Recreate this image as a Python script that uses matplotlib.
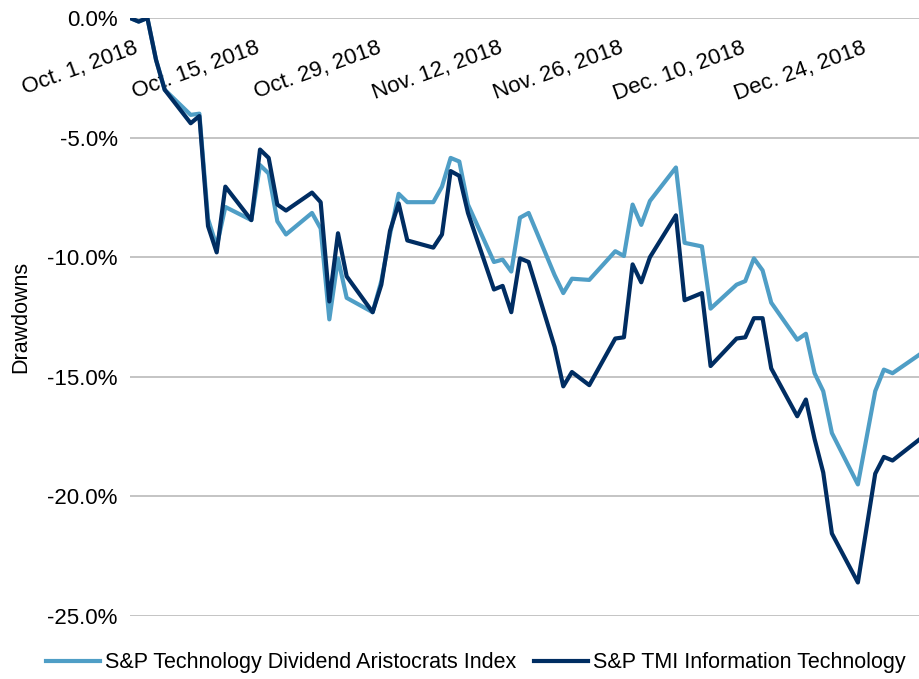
import pandas as pd
import matplotlib
matplotlib.use('Agg')
import matplotlib.pyplot as plt
from matplotlib.ticker import FuncFormatter
from matplotlib.transforms import ScaledTranslation

plt.rcParams['font.family'] = ['Liberation Sans', 'DejaVu Sans']

# trading days, Q4 2018
oct_days = [1, 2, 3, 4, 5, 8, 9, 10, 11, 12, 15, 16, 17, 18, 19, 22, 23, 24, 25, 26, 29, 30, 31]
nov_days = [1, 2, 5, 6, 7, 8, 9, 12, 13, 14, 15, 16, 19, 20, 21, 23, 26, 27, 28, 29, 30]
dec_days = [3, 4, 6, 7, 10, 11, 12, 13, 14, 17, 18, 19, 20, 21, 24, 26, 27, 28, 31]

# drawdowns in percent
aristocrats = [0.0, -0.15, 0.0, -1.75, -3.0, -4.05, -4.0, -8.4, -9.55, -7.9,
               -8.45, -6.15, -6.5, -8.5, -9.05, -8.15, -8.8, -12.6, -10.05, -11.7,
               -12.3, -11.0, -9.05,
               -7.35, -7.7, -7.7, -7.05, -5.85, -6.0, -7.8, -10.2, -10.1, -10.6,
               -8.35, -8.15, -10.75, -11.5, -10.9, -10.95, -9.75, -9.95, -7.8, -8.65,
               -7.65,
               -6.25, -9.4, -9.55, -12.15, -11.15, -11.0, -10.05, -10.55, -11.9, -13.45,
               -13.2, -14.85, -15.6, -17.35, -19.5, -15.6, -14.7, -14.85, -14.1]
tmi_it = [0.0, -0.15, 0.0, -1.75, -3.0, -4.4, -4.1, -8.7, -9.8, -7.05,
          -8.45, -5.5, -5.85, -7.8, -8.05, -7.3, -7.7, -11.85, -9.0, -10.8,
          -12.3, -11.15, -8.9,
          -7.75, -9.3, -9.6, -9.05, -6.4, -6.6, -8.15, -11.35, -11.2, -12.3,
          -10.05, -10.2, -13.75, -15.4, -14.8, -15.35, -13.4, -13.35, -10.3, -11.05,
          -10.0,
          -8.25, -11.8, -11.5, -14.55, -13.4, -13.35, -12.55, -12.55, -14.65, -16.65,
          -15.95, -17.6, -19.0, -21.55, -23.6, -19.05, -18.35, -18.5, -17.65]

tick_dates = ['2018-10-01', '2018-10-15', '2018-10-29', '2018-11-12',
              '2018-11-26', '2018-12-10', '2018-12-24']
tick_labels = ['Oct. 1, 2018', 'Oct. 15, 2018', 'Oct. 29, 2018', 'Nov. 12, 2018',
               'Nov. 26, 2018', 'Dec. 10, 2018', 'Dec. 24, 2018']

dates = ([pd.Timestamp(2018, 10, d) for d in oct_days] +
         [pd.Timestamp(2018, 11, d) for d in nov_days] +
         [pd.Timestamp(2018, 12, d) for d in dec_days])

fig = plt.figure(figsize=(9.19, 6.79), dpi=100)
ax = fig.add_axes([0.1415, 0.0928, 0.858, 0.8807])

ax.plot(dates, aristocrats, color='#4F9EC6', lw=3.0,
        label='S&P Technology Dividend Aristocrats Index')
ax.plot(dates, tmi_it, color='#002D62', lw=3.0,
        label='S&P TMI Information Technology')

ax.set_xlim(pd.Timestamp('2018-10-01'), pd.Timestamp('2018-12-31'))
ax.set_ylim(-25, 0)
ax.set_yticks([0, -5, -10, -15, -20, -25])
ax.yaxis.set_major_formatter(FuncFormatter(lambda v, p: f'{v:.1f}%'))
ax.grid(axis='y', color='#BFBFBF', lw=1.3)
ax.set_axisbelow(True)
for s in ax.spines.values():
    s.set_visible(False)

ax.set_xticks(pd.to_datetime(tick_dates))
ax.xaxis.tick_top()
ax.tick_params(axis='x', length=0, pad=-14, labelsize=16)
ax.tick_params(axis='y', length=0, pad=9, labelsize=16)
ax.set_xticklabels(tick_labels, rotation=20, ha='right', va='top',
                   rotation_mode='anchor')
# nudge the date labels a little to the right
shift = ScaledTranslation(4 / 100, 0, fig.dpi_scale_trans)
for lbl in ax.get_xticklabels():
    lbl.set_transform(lbl.get_transform() + shift)

ax.set_ylabel('Drawdowns', fontsize=15.5)
ax.yaxis.set_label_coords(-0.125, 0.5)

fig.legend(loc='center', bbox_to_anchor=(0.518, 0.0236), ncol=2, frameon=False,
           fontsize=15.5, handlelength=2.5, handletextpad=0.25, columnspacing=0.8)

fig.savefig('out.png', dpi=100)
